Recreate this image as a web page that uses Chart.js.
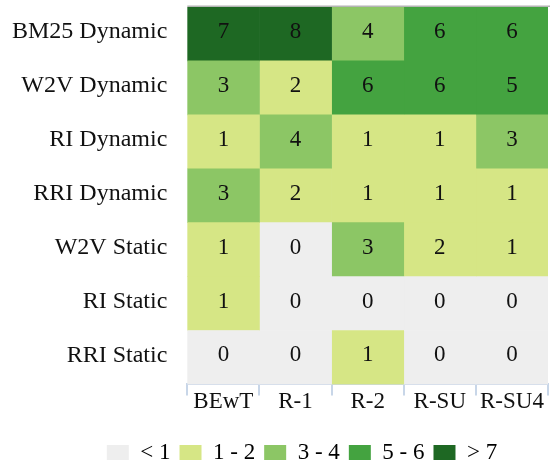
<!DOCTYPE html>
<html>
<head>
<meta charset="utf-8">
<script src="https://cdn.jsdelivr.net/npm/chart.js@4.4.1/dist/chart.umd.min.js"></script>
<style>
  html, body { margin: 0; padding: 0; background: #fff; }
  #wrap { width: 552px; height: 466px; position: relative; }
</style>
</head>
<body>
<div id="wrap"><canvas id="heat"></canvas></div>
<script>
// Heatmap: rows are methods, columns are test sets
const rowLabels = ['BM25 Dynamic', 'W2V Dynamic', 'RI Dynamic', 'RRI Dynamic', 'W2V Static', 'RI Static', 'RRI Static'];
const colLabels = ['BEwT', 'R-1', 'R-2', 'R-SU', 'R-SU4'];

// counts per column (one entry per row, same order as rowLabels)
const bewt = [7, 3, 1, 3, 1, 1, 0];
const r1   = [8, 2, 4, 2, 0, 0, 0];
const r2   = [4, 6, 1, 1, 3, 0, 1];
const rsu  = [6, 6, 1, 1, 2, 0, 0];
const rsu4 = [6, 5, 3, 1, 1, 0, 0];

const bucketLabels = ['< 1', '1 - 2', '3 - 4', '5 - 6', '> 7'];
const bucketColors = ['#eeeeee', '#d6e685', '#8cc665', '#44a340', '#1e6823'];

function colorFor(v) {
  if (v < 1) return bucketColors[0];
  if (v <= 2) return bucketColors[1];
  if (v <= 4) return bucketColors[2];
  if (v <= 6) return bucketColors[3];
  return bucketColors[4];
}

const FONT = '"Liberation Serif", "Times New Roman", serif';
const columns = [bewt, r1, r2, rsu, rsu4];

// each column is one stacked segment of width 1 across every row
const datasets = columns.map((vals, i) => ({
  label: colLabels[i],
  data: vals.map(() => 1),
  counts: vals,
  backgroundColor: vals.map(colorFor),
  borderWidth: 0,
  barPercentage: 1,
  categoryPercentage: 1
}));

const cellText = {
  id: 'cellText',
  afterLayout(chart) {
    // nudge the legend to where the original sits
    const lg = chart.legend;
    if (lg) {
      lg.left += 22; lg.right += 22;
      lg.top += 23; lg.bottom += 23;
    }
  },
  afterDatasetsDraw(chart) {
    const ctx = chart.ctx;
    ctx.save();
    ctx.font = '23px ' + FONT;
    ctx.fillStyle = '#111';
    ctx.textAlign = 'center';
    ctx.textBaseline = 'middle';
    chart.data.datasets.forEach((ds, di) => {
      chart.getDatasetMeta(di).data.forEach((bar, j) => {
        const p = bar.getProps(['x', 'y', 'base'], true);
        ctx.fillText(String(ds.counts[j]), (p.x + p.base) / 2, p.y - 2);
      });
    });
    // thin gray line on top of the grid
    const a = chart.chartArea;
    ctx.strokeStyle = '#b4b4b4';
    ctx.lineWidth = 1.5;
    ctx.beginPath();
    ctx.moveTo(a.left, a.top - 0.75);
    ctx.lineTo(a.right + 2, a.top - 0.75);
    ctx.stroke();
    ctx.restore();
  }
};

new Chart(document.getElementById('heat'), {
  type: 'bar',
  data: { labels: rowLabels, datasets: datasets },
  options: {
    indexAxis: 'y',
    responsive: true,
    maintainAspectRatio: false,
    animation: false,
    layout: { padding: { top: 7, right: 4, left: 12, bottom: 15 } },
    plugins: {
      tooltip: { enabled: false },
      legend: {
        position: 'bottom',
        onClick: null,
        labels: {
          font: { family: FONT, size: 23 },
          color: '#111',
          boxWidth: 22,
          boxHeight: 15,
          padding: 9,
          generateLabels: () => bucketLabels.map((t, i) => ({
            text: t,
            fillStyle: bucketColors[i],
            strokeStyle: bucketColors[i],
            lineWidth: 0,
            hidden: false,
            index: i
          }))
        }
      }
    },
    scales: {
      x: {
        type: 'linear',
        stacked: true,
        min: 0,
        max: colLabels.length,
        display: false
      },
      y: {
        type: 'category',
        stacked: true,
        grid: { display: false, drawTicks: false },
        border: { display: false },
        ticks: { font: { family: FONT, size: 24 }, color: '#111', padding: 20, labelOffset: -2 },
        afterFit(scale) {
          // labels sit inside their rows, no extra room needed above/below
          scale.paddingTop = 0;
          scale.paddingBottom = 0;
          // chart.js reserves the tick padding twice; keep only the inner one
          scale.width -= 20;
        }
      },
      cols: {
        type: 'category',
        position: 'bottom',
        labels: colLabels,
        offset: true,
        grid: { offset: true, drawOnChartArea: false, drawTicks: true, tickLength: 11, color: '#c8d6e8', lineWidth: 2 },
        border: { display: true, color: '#c8d6e8', width: 2 },
        ticks: { font: { family: FONT, size: 23 }, color: '#111', padding: -7, autoSkip: false, minRotation: 0, maxRotation: 0 }
      }
    }
  },
  plugins: [cellText]
});
</script>
</body>
</html>
